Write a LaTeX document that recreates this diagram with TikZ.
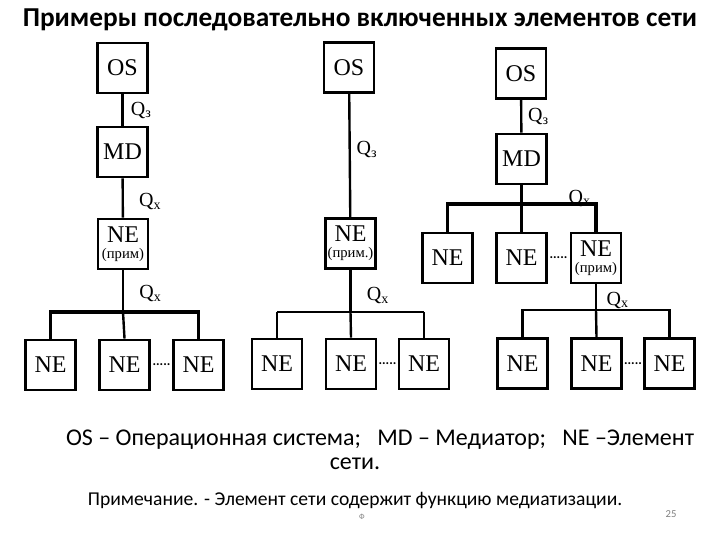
\documentclass[tikz,border=0pt]{standalone}
\usepackage{fontspec}
\setmainfont{Carlito}
\newfontfamily\boxfont{Liberation Serif}
\newcommand{\prmtext}[1]{{\fontsize{11}{11}\selectfont #1}}
\begin{document}
\begin{tikzpicture}[x=0.75pt,y=-0.75pt,
  bx/.style={draw,line width=2.2pt,minimum width=37.5pt,minimum height=37.5pt,inner sep=0pt,font=\boxfont\fontsize{18}{18}\selectfont},
  ln/.style={line width=1.8pt},
  bus/.style={line width=2.6pt},
  ql/.style={font=\boxfont\fontsize{15}{15}\selectfont,anchor=west}]
\useasboundingbox (0,0) rectangle (720,540);
\node[font=\bfseries\fontsize{20.5}{20.5}\selectfont] (title) at (360,20) {Примеры последовательно включенных элементов сети};
% diagram 1
\node[bx] (os1) at (122.5,68) {OS};
\node[bx] (md1) at (122.5,152) {MD};
\node[bx,align=center] (ne1) at (123,244) {NE\\[-6pt]\prmtext{(прим)}};
\node[bx] (a1) at (50.5,365) {NE};
\node[bx] (b1) at (124.5,365) {NE};
\node[bx] (c1) at (198.5,365) {NE};
\coordinate (l1) at (50.5,312); \coordinate (r1) at (198.5,312); \coordinate (m1) at (123,312);
\draw[ln] (os1) -- node[ql,pos=0.5,xshift=2pt]{Q\textsubscript{з}} (md1);
\draw[ln] (md1) -- node[ql,pos=0.6,xshift=8pt]{Q\textsubscript{x}} (ne1);
\draw[ln] (ne1) -- node[ql,pos=0.55,xshift=8pt]{Q\textsubscript{x}} (m1);
\draw[bus] (a1.north) -- (l1) -- (r1) -- (c1.north);
\draw[ln] (m1) -- (b1.north);
\node[font=\bfseries] (d1) at (161.5,365) {.....};
% diagram 2
\node[bx] (os2) at (349,67.5) {OS};
\node[bx,align=center] (ne2) at (350.5,243.5) {NE\\[-6pt]\prmtext{(прим.)}};
\node[bx] (a2) at (277,364) {NE};
\node[bx] (b2) at (351,364) {NE};
\node[bx] (c2) at (424,364) {NE};
\coordinate (l2) at (277,312); \coordinate (r2) at (424,312); \coordinate (m2) at (350.5,312);
\draw[ln] (os2) -- node[ql,pos=0.45,xshift=1pt]{Q\textsubscript{з}} (ne2);
\draw[ln] (ne2) -- node[ql,pos=0.6,xshift=8pt]{Q\textsubscript{x}} (m2);
\draw[ln] (l2) -- (r2);
\draw[ln] (a2.north) -- (l2); \draw[ln] (c2.north) -- (r2); \draw[ln] (m2) -- (b2.north);
\node[font=\bfseries] (d2) at (387.5,364) {.....};
% diagram 3
\node[bx] (os3) at (521,73.5) {OS};
\node[bx] (md3) at (521.5,159) {MD};
\node[bx] (p3) at (447.5,258) {NE};
\node[bx] (q3) at (521.5,258) {NE};
\node[bx,align=center] (ne3) at (596,258) {NE\\[-6pt]\prmtext{(прим)}};
\node[bx] (a3) at (522.5,363.5) {NE};
\node[bx] (b3) at (596.5,363.5) {NE};
\node[bx] (c3) at (669.5,363.5) {NE};
\coordinate (l3) at (447.5,204); \coordinate (r3) at (596,204); \coordinate (m3) at (521.5,204);
\coordinate (l4) at (522.5,310); \coordinate (r4) at (669.5,310); \coordinate (m4) at (596,310);
\draw[ln] (os3) -- node[ql,pos=0.5,xshift=1pt]{Q\textsubscript{з}} (md3);
\draw[ln] (md3) -- (m3);
\draw[bus] (p3.north) -- (l3) -- (r3) -- (ne3.north);
\draw[ln] (m3) -- (q3.north);
\node[ql] (qx3) at (564,198) {Q\textsubscript{x}};
\draw[ln] (ne3) -- (m4);
\node[ql] (qx4) at (602,300) {Q\textsubscript{x}};
\draw[ln] (a3.north) -- (l4) -- (r4) -- (c3.north);
\draw[ln] (m4) -- (b3.north);
\node[font=\bfseries] (d3) at (558.5,258) {.....};
\node[font=\bfseries] (d4) at (633,363.5) {.....};
% legend
\node[font=\fontsize{18}{18}\selectfont] (leg1) at (380,440) {OS -- Операционная система;\ \ \ MD -- Медиатор;\ \ \ NE --Элемент};
\node[font=\fontsize{18}{18}\selectfont] (leg2) at (355,464) {сети.};
\node[font=\fontsize{14.7}{14.7}\selectfont] (note) at (355,500) {Примечание. - Элемент сети содержит функцию медиатизации.};
\node[font=\fontsize{6}{6}\selectfont,text=gray] (f) at (362,517) {Ф};
\node[font=\fontsize{8}{8}\selectfont,text=gray] (pg) at (671,514) {25};
\end{tikzpicture}
\end{document}
